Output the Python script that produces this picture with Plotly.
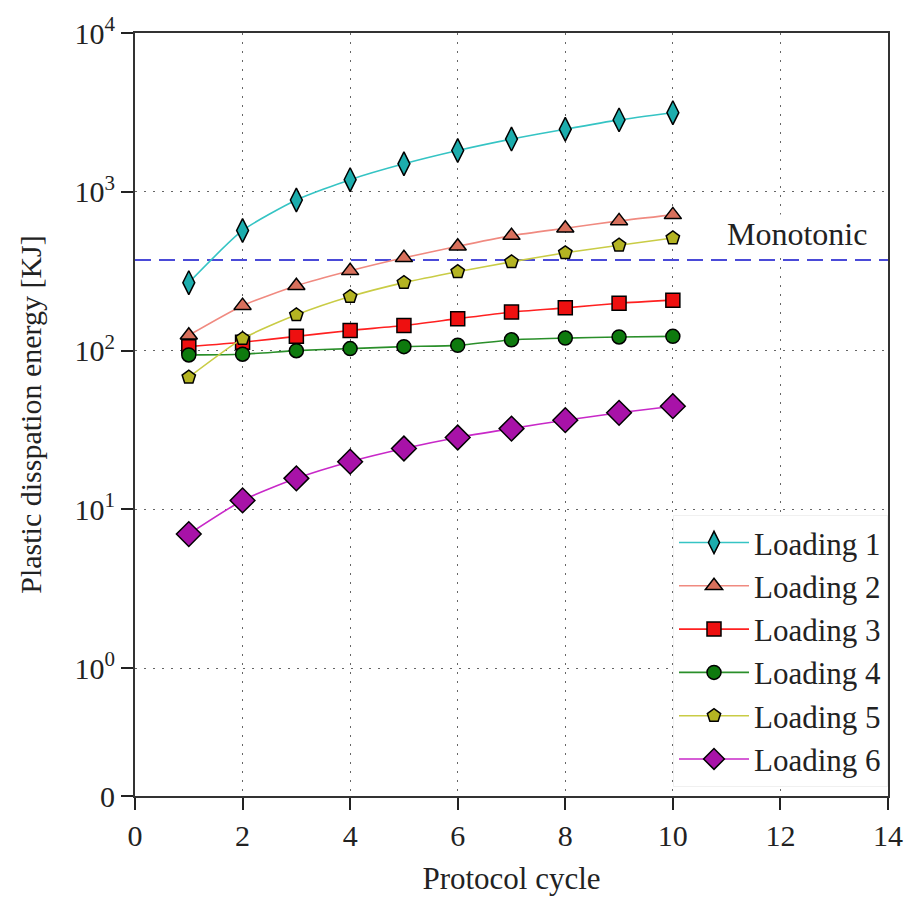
import math
import plotly.graph_objects as go

cycles = [1, 2, 3, 4, 5, 6, 7, 8, 9, 10]
loading1 = [268, 571, 888, 1193, 1501, 1820, 2148, 2479, 2838, 3150]
loading2 = [125, 192, 256, 318, 384, 454, 530, 590, 656, 716]
loading3 = [106, 113, 123, 134, 144, 159, 175, 186, 199, 208]
loading4 = [94, 95, 100, 103, 106, 108, 117, 120, 122, 123]
loading5 = [68, 119, 168, 219, 268, 314, 362, 413, 461, 512]
loading6 = [7.0, 11.4, 15.7, 20.0, 24.2, 28.4, 32.3, 36.5, 40.6, 44.7]
monotonic = 372
series_names = ["Loading 1", "Loading 2", "Loading 3", "Loading 4", "Loading 5", "Loading 6"]
ytick_vals = [10 ** -0.804, 1, 10, 100, 1000, 10000]
ytick_text = ["0", "10<sup>0</sup>", "10<sup>1</sup>", "10<sup>2</sup>", "10<sup>3</sup>", "10<sup>4</sup>"]
xtick_vals = [0, 2, 4, 6, 8, 10, 12, 14]

styles = [
    dict(line="#35c4c4", marker="#1cadad", symbol="diamond-tall", size=17),
    dict(line="#f08a80", marker="#d8705c", symbol="triangle-up", size=15),
    dict(line="#ff2020", marker="#ee1010", symbol="square", size=14),
    dict(line="#2a8f2a", marker="#0e7a0e", symbol="circle", size=14),
    dict(line="#c9cc45", marker="#b4b422", symbol="pentagon", size=14),
    dict(line="#c828c8", marker="#a812a8", symbol="diamond", size=19),
]
data = [loading1, loading2, loading3, loading4, loading5, loading6]

fig = go.Figure()
fig.add_trace(go.Scatter(x=[0, 14], y=[monotonic, monotonic], mode="lines",
                         line=dict(color="#4a4ad8", width=2, dash="16px,8px"),
                         showlegend=False, hoverinfo="skip"))
for name, ys, st in zip(series_names, data, styles):
    fig.add_trace(go.Scatter(
        x=cycles, y=ys, name=name, mode="lines+markers",
        line=dict(color=st["line"], width=1.6, shape="spline", smoothing=0.6),
        marker=dict(symbol=st["symbol"], size=st["size"], color=st["marker"],
                    line=dict(color="black", width=1.5)),
    ))

font_family = "Liberation Serif, Times New Roman, serif"
fig.add_annotation(x=12.3, y=math.log10(545), xref="x", yref="y", text="Monotonic",
                   showarrow=False, font=dict(family=font_family, size=32, color="#222"),
                   bgcolor="white", borderpad=1)

grid_common = dict(showgrid=True, gridcolor="#666", griddash="2px,7px", gridwidth=1.2)

fig.update_layout(
    width=915, height=902,
    margin=dict(l=135, r=22, t=30, b=102),
    paper_bgcolor="white", plot_bgcolor="white",
    font=dict(family=font_family, size=28, color="#222"),
    legend=dict(x=1, y=0.012, xanchor="right", yanchor="bottom",
                bgcolor="white", bordercolor="#f0f0f0", borderwidth=1,
                font=dict(size=31, family=font_family, color="#222"),
                itemwidth=70, tracegroupgap=0),
)
fig.update_xaxes(range=[0, 14], tickvals=xtick_vals, showline=True, linecolor="#333",
                 linewidth=2, mirror=True, ticks="outside", ticklen=12, tickwidth=1.5,
                 tickcolor="#222", zeroline=False,
                 title=dict(text="Protocol cycle", standoff=16, font=dict(size=31)),
                 tickfont=dict(size=30), **grid_common)
fig.update_yaxes(type="log", range=[-0.804, 4], tickvals=ytick_vals, ticktext=ytick_text,
                 showline=True, linecolor="#333", linewidth=2, mirror=True,
                 ticks="outside", ticklen=12, tickwidth=1.5, tickcolor="#222",
                 zeroline=False,
                 title=dict(text="Plastic disspation energy [KJ]", standoff=24, font=dict(size=30)),
                 tickfont=dict(size=30), **grid_common)

fig.write_html("out.html")
